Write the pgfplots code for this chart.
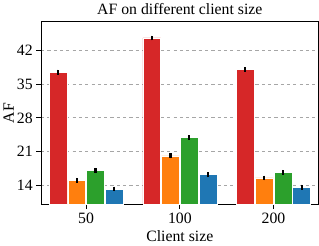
\documentclass[border=0pt]{standalone}
\usepackage{pgfplots}
\pgfplotsset{compat=1.18}
\usepackage{fontspec}
\setmainfont{Liberation Serif}
\definecolor{tabred}{HTML}{D62728}
\definecolor{taborange}{HTML}{FF7F0E}
\definecolor{tabgreen}{HTML}{2CA02C}
\definecolor{tabblue}{HTML}{1F77B4}
\begin{document}
\begin{tikzpicture}
\begin{axis}[
  scale only axis,
  width=264pt, height=174pt,
  xmin=-0.48, xmax=2.48,
  ymin=10, ymax=48,
  xtick={0,1,2}, xticklabels={50,100,200},
  ytick={14,21,28,35,42},
  ymajorgrids,
  grid style={dashed, gray!70, line width=0.7pt},
  axis line style={line width=0.9pt},
  tick style={black, line width=0.9pt},
  major tick length=4.5pt,
  tick align=outside,
  xtick pos=bottom, ytick pos=left,
  ybar, bar width=0.19,
  title={AF on different client size},
  xlabel={Client size}, ylabel={AF},
  title style={font=\fontsize{15}{17}\selectfont, yshift=-3pt},
  label style={font=\fontsize{15}{17}\selectfont},
  tick label style={font=\fontsize{15}{17}\selectfont},
  /pgf/number format/assume math mode=true,
  error bars/y dir=both, error bars/y explicit,
  error bars/error mark=none,
  error bars/error bar style={black, line width=2pt},
  every axis plot/.append style={draw=white, line width=0.5pt},
  ylabel style={yshift=-4pt},
]
\addplot[fill=tabred, bar shift=-0.3] coordinates {(0,37.5) +- (0,0.5) (1,44.6) +- (0,0.5) (2,38.0) +- (0,0.5)};
\addplot[fill=taborange, bar shift=-0.1] coordinates {(0,15.0) +- (0,0.5) (1,20.1) +- (0,0.5) (2,15.5) +- (0,0.5)};
\addplot[fill=tabgreen, bar shift=0.1] coordinates {(0,17.1) +- (0,0.5) (1,23.9) +- (0,0.5) (2,16.7) +- (0,0.5)};
\addplot[fill=tabblue, bar shift=0.3] coordinates {(0,13.2) +- (0,0.5) (1,16.2) +- (0,0.5) (2,13.6) +- (0,0.5)};
\end{axis}
\end{tikzpicture}
\end{document}
